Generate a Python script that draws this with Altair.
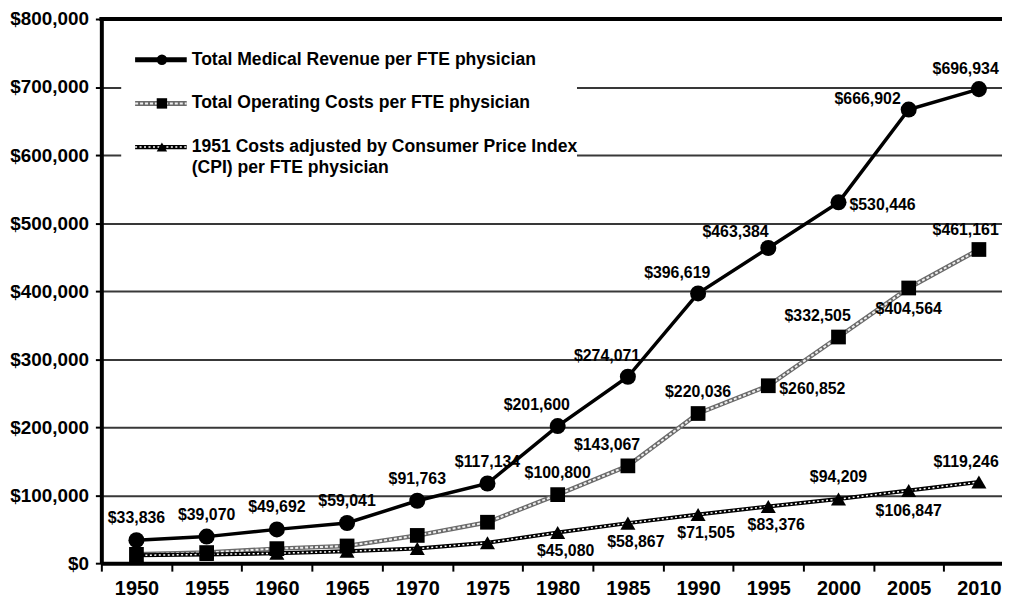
import altair as alt
import pandas as pd

# ---------------- data ----------------
YEARS = [1950, 1955, 1960, 1965, 1970, 1975, 1980, 1985, 1990, 1995, 2000, 2005, 2010]
REVENUE = [33836, 39070, 49692, 59041, 91763, 117134, 201600, 274071, 396619, 463384, 530446, 666902, 696934]
COSTS = [13000, 15600, 21400, 25300, 40800, 60200, 100800, 143067, 220036, 260852, 332505, 404564, 461161]
CPI = [11500, 12800, 14500, 17500, 21500, 30000, 45080, 58867, 71505, 83376, 94209, 106847, 119246]
Y_TICKS = [0, 100000, 200000, 300000, 400000, 500000, 600000, 700000, 800000]
SERIES = [
    "Total Medical Revenue per FTE physician",
    "Total Operating Costs per FTE physician",
    "1951 Costs adjusted by Consumer Price Index\n(CPI) per FTE physician",
]

# label placement (style only); None = no label
REV_PLACE = ["above"] * 6 + ["upleft", "upleft", "upleft", "upleft2", "right", "left", "above_end"]
COST_PLACE = [None] * 6 + ["above", "upleft", "above", "right", "upleft", "below", "above_end"]
CPI_PLACE = [None] * 6 + ["downright", "downright", "downright", "downright", "above", "below", "above_end"]

PLACEMENTS = {
    "above": (0, -22, "center"),
    "upleft": (-21, -21, "center"),
    "upleft2": (-33, -16, "center"),
    "right": (11, 3, "left"),
    "left": (-8, -11, "right"),
    "below": (0, 21, "center"),
    "downright": (8, 19, "center"),
    "above_end": (20, -20, "right"),
}

FONT = "Liberation Sans"
PAD_L, PAD_T = 94, 9
PLOT_W = 907
PLOT_H = 548
PAD_B = 37                      # total svg height 594 -> page fits the 611px window
STEP = 70.7                     # pixels per 5-year category
PX_PER_YEAR = STEP / 5.0

rows = []
for name, vals, places in [("rev", REVENUE, REV_PLACE), ("cost", COSTS, COST_PLACE), ("cpi", CPI, CPI_PLACE)]:
    for y, v, p in zip(YEARS, vals, places):
        rows.append({"year": y, "value": v, "series": name, "place": p if p else "none"})
df = pd.DataFrame(rows)

x_lo = YEARS[0] - 2.5
x_hi = x_lo + PLOT_W / PX_PER_YEAR

x_enc = alt.X(
    "year:Q",
    scale=alt.Scale(domain=[x_lo, x_hi], nice=False, zero=False),
    axis=alt.Axis(
        values=[y - 2.5 for y in YEARS],
        labelExpr="format(datum.value + 2.5, 'd')",
        labelOffset=STEP / 2,
        labelFlush=False,
        labelOverlap=False,
        labelBound=False,
        title=None,
        grid=False,
        domainColor="black",
        domainWidth=4,
        tickColor="black",
        tickWidth=2,
        tickSize=8,
        labelFont=FONT,
        labelFontSize=20,
        labelFontWeight="bold",
        labelColor="black",
        labelPadding=8,
    ),
)
y_enc = alt.Y(
    "value:Q",
    scale=alt.Scale(domain=[0, 800000], nice=False),
    axis=alt.Axis(
        values=Y_TICKS,
        format="$,.0f",
        title=None,
        grid=True,
        gridColor="#383838",
        gridWidth=2,
        domainColor="black",
        domainWidth=4,
        tickColor="black",
        tickWidth=2,
        tickSize=6,
        labelFont=FONT,
        labelFontSize=19,
        labelFontWeight="bold",
        labelColor="black",
        labelPadding=7,
    ),
)

base = alt.Chart(df)

def series(name):
    return base.transform_filter(alt.datum.series == name)

layers = []

# legend background box (covers gridlines)
one = pd.DataFrame({"k": [0]})
layers.append(
    alt.Chart(one).mark_rect(fill="white").encode(
        x=alt.value(20), x2=alt.value(479), y=alt.value(14), y2=alt.value(182)
    )
)

# lines
layers.append(series("cost").mark_line(color="#6a6a6a", strokeWidth=4.5).encode(x=x_enc, y=y_enc))
layers.append(series("cost").mark_line(color="#eeeeee", strokeWidth=2, strokeDash=[3, 2]).encode(x=x_enc, y=y_enc))
layers.append(series("cpi").mark_line(color="black", strokeWidth=4).encode(x=x_enc, y=y_enc))
layers.append(series("cpi").mark_line(color="white", strokeWidth=1.5, strokeDash=[2, 2.5]).encode(x=x_enc, y=y_enc))
layers.append(series("rev").mark_line(color="black", strokeWidth=3.5).encode(x=x_enc, y=y_enc))

# markers
layers.append(series("cpi").mark_point(shape="triangle-up", filled=True, color="black", opacity=1, size=230).encode(x=x_enc, y=y_enc))
layers.append(series("cost").mark_point(shape="square", filled=True, color="black", opacity=1, size=220).encode(x=x_enc, y=y_enc))
layers.append(series("rev").mark_point(shape="circle", filled=True, color="black", opacity=1, size=260).encode(x=x_enc, y=y_enc))

# data labels
for pname, (dx, dy, align) in PLACEMENTS.items():
    layers.append(
        base.transform_filter(alt.datum.place == pname)
        .mark_text(dx=dx, dy=dy, align=align, baseline="middle", font=FONT, fontSize=16,
                   fontWeight="bold", color="black")
        .encode(x=x_enc, y=y_enc, text=alt.Text("value:Q", format="$,.0f"))
    )

# top frame
layers.append(
    alt.Chart(one).mark_rule(color="black", strokeWidth=4).encode(
        x=alt.value(-2), x2=alt.value(PLOT_W + 10), y=alt.value(0)
    )
)

# legend entries
LEG_X0, LEG_X1, LEG_MX, LEG_TX = 34, 86, 61, 91
LEG_Y = [41, 85, 129]
LEG_SHAPES = ["circle", "square", "triangle-up"]
LEG_SIZES = [110, 110, 110]
for i, label in enumerate(SERIES):
    yy = LEG_Y[i]
    if i == 0:
        layers.append(alt.Chart(one).mark_rule(color="black", strokeWidth=5).encode(
            x=alt.value(LEG_X0), x2=alt.value(LEG_X1), y=alt.value(yy)))
    elif i == 1:
        layers.append(alt.Chart(one).mark_rule(color="#6a6a6a", strokeWidth=5).encode(
            x=alt.value(LEG_X0), x2=alt.value(LEG_X1), y=alt.value(yy)))
        layers.append(alt.Chart(one).mark_rule(color="#eeeeee", strokeWidth=2, strokeDash=[3, 2]).encode(
            x=alt.value(LEG_X0), x2=alt.value(LEG_X1), y=alt.value(yy)))
    else:
        layers.append(alt.Chart(one).mark_rule(color="black", strokeWidth=4.5).encode(
            x=alt.value(LEG_X0), x2=alt.value(LEG_X1), y=alt.value(yy)))
        layers.append(alt.Chart(one).mark_rule(color="white", strokeWidth=1.5, strokeDash=[2, 2.5]).encode(
            x=alt.value(LEG_X0), x2=alt.value(LEG_X1), y=alt.value(yy)))
    layers.append(alt.Chart(one).mark_point(shape=LEG_SHAPES[i], filled=True, color="black", opacity=1,
                                            size=LEG_SIZES[i]).encode(x=alt.value(LEG_MX), y=alt.value(yy)))
    layers.append(alt.Chart(pd.DataFrame({"t": [label]})).mark_text(
        align="left", baseline="top", font=FONT, fontSize=17.7, fontWeight="bold", color="black",
        lineBreak="\n", lineHeight=21, dy=-9
    ).encode(x=alt.value(LEG_TX), y=alt.value(yy), text="t:N"))

chart = (
    alt.layer(*layers)
    .properties(
        width=PLOT_W,
        height=PLOT_H,
        autosize=alt.AutoSizeParams(type="none"),
        padding={"left": PAD_L, "top": PAD_T, "right": 0, "bottom": PAD_B},
        background="white",
    )
    .configure_view(stroke=None)
)

chart.save("out.html", embed_options={"renderer": "svg", "actions": False})
